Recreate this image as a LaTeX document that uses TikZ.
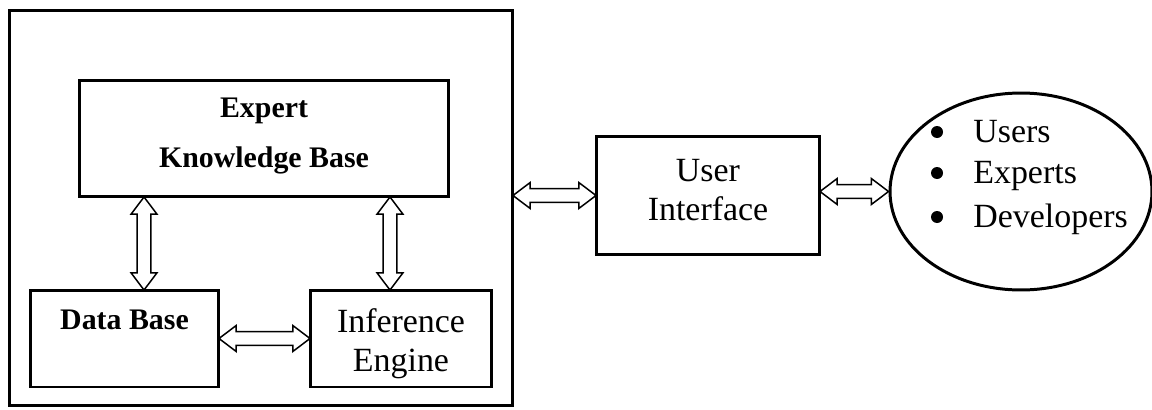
\documentclass[tikz,border=0pt]{standalone}
\usepackage{fontspec}
\setmainfont{Liberation Serif}
\usetikzlibrary{calc,shapes.geometric}

\newcommand{\headlen}{9.8pt}
\newcommand{\headwid}{7.4pt}
\newcommand{\shaftwid}{3.9pt}

\tikzset{
  box/.style={draw, line width=1.7pt, inner sep=0pt, outer sep=0pt, align=center},
  bigtext/.style={font=\fontsize{19.3}{22.1}\selectfont, align=center},
  boldtext/.style={font=\fontsize{17}{28.3}\selectfont\bfseries, align=center},
  item/.style={font=\fontsize{19.3}{22.1}\selectfont, anchor=base west, inner sep=0pt},
  twoway/.style={draw, line width=0.85pt, fill=white, line join=miter,
    to path={
      (\tikztostart)
      -- ($($(\tikztostart)!\headlen!(\tikztotarget)$)!\headwid!90:(\tikztotarget)$)
      -- ($($(\tikztostart)!\headlen!(\tikztotarget)$)!\shaftwid!90:(\tikztotarget)$)
      -- ($($(\tikztotarget)!\headlen!(\tikztostart)$)!\shaftwid!-90:(\tikztostart)$)
      -- ($($(\tikztotarget)!\headlen!(\tikztostart)$)!\headwid!-90:(\tikztostart)$)
      -- (\tikztotarget)
      -- ($($(\tikztotarget)!\headlen!(\tikztostart)$)!\headwid!90:(\tikztostart)$)
      -- ($($(\tikztotarget)!\headlen!(\tikztostart)$)!\shaftwid!90:(\tikztostart)$)
      -- ($($(\tikztostart)!\headlen!(\tikztotarget)$)!\shaftwid!-90:(\tikztotarget)$)
      -- ($($(\tikztostart)!\headlen!(\tikztotarget)$)!\headwid!-90:(\tikztotarget)$)
      -- cycle}}
}

\begin{document}
\begin{tikzpicture}[x=0.02cm, y=-0.02cm]
  \useasboundingbox (0,0) rectangle (1152,409);

  % expert system frame
  \node[box, minimum width=10.08cm, minimum height=7.92cm] (outer) at (261,208) {};
  \node[box, minimum width=7.4cm, minimum height=2.34cm] (kb) at (264,138.5) {};
  \node[boldtext] (kbtext) at (264,136) {Expert\\Knowledge Base};
  \node[box, minimum width=3.78cm, minimum height=1.94cm] (db) at (124.5,338.5) {};
  \node[boldtext, anchor=base] (dbtext) at (124.5,329) {Data Base};
  \node[box, minimum width=3.64cm, minimum height=1.94cm] (ie) at (401,338.5) {};
  \node[bigtext] (ietext) at (401,344) {Inference\\Engine};

  % outside
  \node[box, minimum width=4.48cm, minimum height=2.38cm] (ui) at (708,195.5) {};
  \node[bigtext] (uitext) at (708,190) {User\\Interface};
  \node[draw, ellipse, line width=1.7pt, inner sep=0pt, minimum width=5.24cm, minimum height=3.94cm] (users) at (1021,191.5) {};
  \node[item] (usr) at (973,142) {Users};
  \node[item] (exp) at (973,183) {Experts};
  \node[item] (dev) at (973,227) {Developers};
  \fill (937,132) circle (6);
  \fill (937,173) circle (6);
  \fill (937,217) circle (6);

  % connectors
  \coordinate (kbL) at ([xshift=1.3cm]kb.south west);
  \coordinate (kbR) at ([xshift=-1.18cm]kb.south east);
  \draw[twoway] (kbL) to (kbL |- db.north);
  \draw[twoway] (kbR) to (kbR |- ie.north);
  \draw[twoway] (db.east) to (ie.west);
  \draw[twoway] (outer.east |- ui.west) to (ui.west);
  \draw[twoway] (ui.east |- users.west) to (users.west);
\end{tikzpicture}
\end{document}
